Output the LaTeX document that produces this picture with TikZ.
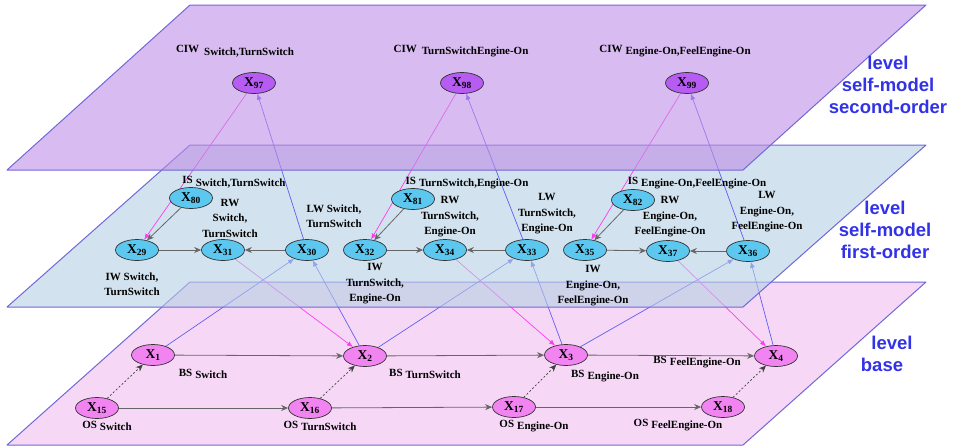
\documentclass[tikz,border=0pt]{standalone}
\usepackage{fontspec}
\setmainfont{Liberation Serif}
\setsansfont{Liberation Sans}
\usetikzlibrary{arrows.meta, shapes.geometric}

\definecolor{planeedge}{RGB}{112,104,216}
\definecolor{topfill}{RGB}{190,142,230}
\definecolor{midfill}{RGB}{180,207,227}
\definecolor{basefill}{RGB}{240,190,240}
\definecolor{topnode}{RGB}{182,92,242}
\definecolor{midnode}{RGB}{92,200,240}
\definecolor{basenode}{RGB}{242,132,242}
\definecolor{upblue}{RGB}{95,95,240}
\definecolor{downpink}{RGB}{255,60,240}
\definecolor{levelblue}{RGB}{50,50,230}

\pgfdeclarelayer{planebase}
\pgfdeclarelayer{linkbase}
\pgfdeclarelayer{planemid}
\pgfdeclarelayer{linkmid}
\pgfdeclarelayer{planetop}
\pgfsetlayers{planebase,linkbase,planemid,linkmid,planetop,main}

\begin{document}
\begin{tikzpicture}[
		x=1pt, y=-1pt,
		% Level planes (semi transparent parallelograms)
		plane/.style={draw=planeedge, line width=1pt, fill=#1, fill opacity=0.6, line join=round},
		% State nodes
		state/.style={
				ellipse, draw=black!80, line width=0.7pt, fill=#1,
				minimum width=43pt, minimum height=21pt, inner sep=0pt,
				font=\fontsize{13.5}{15}\selectfont\bfseries
			},
		% Texts
		lab/.style={font=\fontsize{11}{15.5}\selectfont\bfseries, align=center, inner sep=0pt},
		levellab/.style={font=\sffamily\bfseries\fontsize{18.5}{22}\selectfont, text=levelblue, align=center},
		% Arrows
		flow/.style={-{Stealth[length=7pt, width=6pt]}, draw=black!60, line width=0.8pt},
		hint/.style={flow, draw=black!75, line width=0.7pt, dash pattern=on 2pt off 2pt},
		uplink/.style={-{Latex[length=6pt, width=5pt]}, draw=upblue, line width=0.7pt},
		downlink/.style={-{Latex[length=6pt, width=5pt]}, draw=downpink, line width=0.7pt}
	]

	\useasboundingbox (0,0) rectangle (956,447);

	% ==========================================
	% 1. SECOND-ORDER SELF-MODEL LEVEL (TOP)
	% ==========================================

	\node[state=topnode] (x97) at (254, 83) {X\textsubscript{97}};
	\node[state=topnode] (x98) at (462, 83) {X\textsubscript{98}};
	\node[state=topnode] (x99) at (687, 83) {X\textsubscript{99}};

	\node[lab] (ciw97) at (235, 51) {CIW\hspace{5pt}\raisebox{-2.5pt}{Switch,TurnSwitch}};
	\node[lab] (ciw98) at (461, 51) {CIW\hspace{5pt}\raisebox{-2.5pt}{TurnSwitchEngine-On}};
	\node[lab] (ciw99) at (675, 51) {CIW\hspace{3pt}\raisebox{-2.5pt}{Engine-On,FeelEngine-On}};

	\node[levellab] (lvltop) at (888, 85) {level\\self-model\\second-order};

	% ==========================================
	% 2. FIRST-ORDER SELF-MODEL LEVEL (MIDDLE)
	% ==========================================

	\node[state=midnode] (x80) at (191, 198) {X\textsubscript{80}};
	\node[state=midnode] (x29) at (137, 250) {X\textsubscript{29}};
	\node[state=midnode] (x31) at (223, 250) {X\textsubscript{31}};
	\node[state=midnode] (x30) at (307, 250) {X\textsubscript{30}};

	\node[state=midnode] (x81) at (413, 199) {X\textsubscript{81}};
	\node[state=midnode] (x32) at (365, 250) {X\textsubscript{32}};
	\node[state=midnode] (x34) at (445, 250) {X\textsubscript{34}};
	\node[state=midnode] (x33) at (527, 250) {X\textsubscript{33}};

	\node[state=midnode] (x82) at (633, 200) {X\textsubscript{82}};
	\node[state=midnode] (x35) at (585, 250) {X\textsubscript{35}};
	\node[state=midnode] (x37) at (668, 251) {X\textsubscript{37}};
	\node[state=midnode] (x36) at (748, 251) {X\textsubscript{36}};

	\node[lab] (is80) at (234, 182) {IS\hspace{3pt}\raisebox{-2.5pt}{Switch,TurnSwitch}};
	\node[lab] (rw31) at (230, 218) {RW\\Switch,\\TurnSwitch};
	\node[lab] (iw29) at (132, 284) {IW Switch,\\TurnSwitch};
	\node[lab] (lw30) at (334, 216) {LW Switch,\\TurnSwitch};

	\node[lab] (is81) at (467, 183) {IS\hspace{3pt}\raisebox{-2.5pt}{TurnSwitch,Engine-On}};
	\node[lab] (rw34) at (450, 217) {RW\\TurnSwitch,\\Engine-On};
	\node[lab] (iw32) at (375, 284) {IW\\TurnSwitch,\\Engine-On};
	\node[lab] (lw33) at (547, 214) {LW\\TurnSwitch,\\Engine-On};

	\node[lab] (is82) at (697, 183) {IS\hspace{3pt}\raisebox{-2.5pt}{Engine-On,FeelEngine-On}};
	\node[lab] (rw37) at (670, 217) {RW\\Engine-On,\\FeelEngine-On};
	\node[lab] (iw35) at (593, 286) {IW\\Engine-On,\\FeelEngine-On};
	\node[lab] (lw36) at (767, 212) {LW\\Engine-On,\\FeelEngine-On};

	\node[levellab] (lvlmid) at (885, 230) {level\\self-model\\first-order};

	\draw[flow] (x80) -- (x29);
	\draw[flow] (x29) -- (x31);
	\draw[flow] (x30) -- (x31);
	\draw[flow] (x81) -- (x32);
	\draw[flow] (x32) -- (x34);
	\draw[flow] (x33) -- (x34);
	\draw[flow] (x82) -- (x35);
	\draw[flow] (x35) -- (x37);
	\draw[flow] (x36) -- (x37);

	% ==========================================
	% 3. BASE LEVEL (BOTTOM)
	% ==========================================

	\node[state=basenode] (x1) at (153, 355) {X\textsubscript{1}};
	\node[state=basenode] (x2) at (365, 356) {X\textsubscript{2}};
	\node[state=basenode] (x3) at (566, 355) {X\textsubscript{3}};
	\node[state=basenode] (x4) at (776, 356) {X\textsubscript{4}};
	\node[state=basenode] (x15) at (97, 408) {X\textsubscript{15}};
	\node[state=basenode] (x16) at (310, 408) {X\textsubscript{16}};
	\node[state=basenode] (x17) at (514, 407) {X\textsubscript{17}};
	\node[state=basenode] (x18) at (723, 407) {X\textsubscript{18}};

	\node[lab] (bs1) at (203, 374) {BS\hspace{3pt}\raisebox{-2.5pt}{Switch}};
	\node[lab] (bs2) at (425, 374) {BS\hspace{3pt}\raisebox{-2.5pt}{TurnSwitch}};
	\node[lab] (bs3) at (605, 376) {BS\hspace{3pt}\raisebox{-2.5pt}{Engine-On}};
	\node[lab] (bs4) at (697, 362) {BS\hspace{3pt}\raisebox{-2.5pt}{FeelEngine-On}};
	\node[lab] (os15) at (107, 426) {OS\hspace{3pt}\raisebox{-2.5pt}{Switch}};
	\node[lab] (os16) at (320, 426) {OS\hspace{3pt}\raisebox{-2.5pt}{TurnSwitch}};
	\node[lab] (os17) at (534, 426) {OS\hspace{3pt}\raisebox{-2.5pt}{Engine-On}};
	\node[lab] (os18) at (678, 425) {OS\hspace{3pt}\raisebox{-2.5pt}{FeelEngine-On}};

	\node[levellab] (lvlbase) at (882, 354) {\hspace*{20pt}level\\base};

	\draw[flow] (x1) -- (x2);
	\draw[flow] (x2) -- (x3);
	\draw[flow] (x3) -- (x4);
	\draw[flow] (x15) -- (x16);
	\draw[flow] (x16) -- (x17);
	\draw[flow] (x17) -- (x18);

	\draw[hint] (x15) -- (x1);
	\draw[hint] (x16) -- (x2);
	\draw[hint] (x17) -- (x3);
	\draw[hint] (x18) -- (x4);

	% ==========================================
	% 4. PLANES AND LINKS BETWEEN LEVELS (LAYERED)
	% ==========================================

	\begin{pgfonlayer}{planebase}
		\draw[plane=basefill] (190, 282) -- (926, 282) -- (743, 445) -- (7, 445) -- cycle;
	\end{pgfonlayer}

	% base -> first-order (blue) and first-order -> base (pink)
	\begin{pgfonlayer}{linkbase}
		\draw[uplink] (x1) -- (x30);
		\draw[uplink] (x2) -- (x30);
		\draw[uplink] (x2) -- (x33);
		\draw[uplink] (x3) -- (x33);
		\draw[uplink] (x3) -- (x36);
		\draw[uplink] (x4) -- (x36);
		\draw[downlink] (x31) -- (x2);
		\draw[downlink] (x34) -- (x3);
		\draw[downlink] (x37) -- (x4);
	\end{pgfonlayer}

	\begin{pgfonlayer}{planemid}
		\draw[plane=midfill] (190, 145) -- (926, 145) -- (743, 307) -- (7, 307) -- cycle;
	\end{pgfonlayer}

	% first-order -> second-order (blue) and back (magenta)
	\begin{pgfonlayer}{linkmid}
		\draw[uplink] (x30) -- (x97);
		\draw[uplink] (x33) -- (x98);
		\draw[uplink] (x36) -- (x99);
		\draw[downlink] (x97) -- (x29);
		\draw[downlink] (x98) -- (x32);
		\draw[downlink] (x99) -- (x35);
	\end{pgfonlayer}

	\begin{pgfonlayer}{planetop}
		\draw[plane=topfill] (190, 5) -- (926, 5) -- (743, 170) -- (7, 170) -- cycle;
	\end{pgfonlayer}

\end{tikzpicture}
\end{document}
